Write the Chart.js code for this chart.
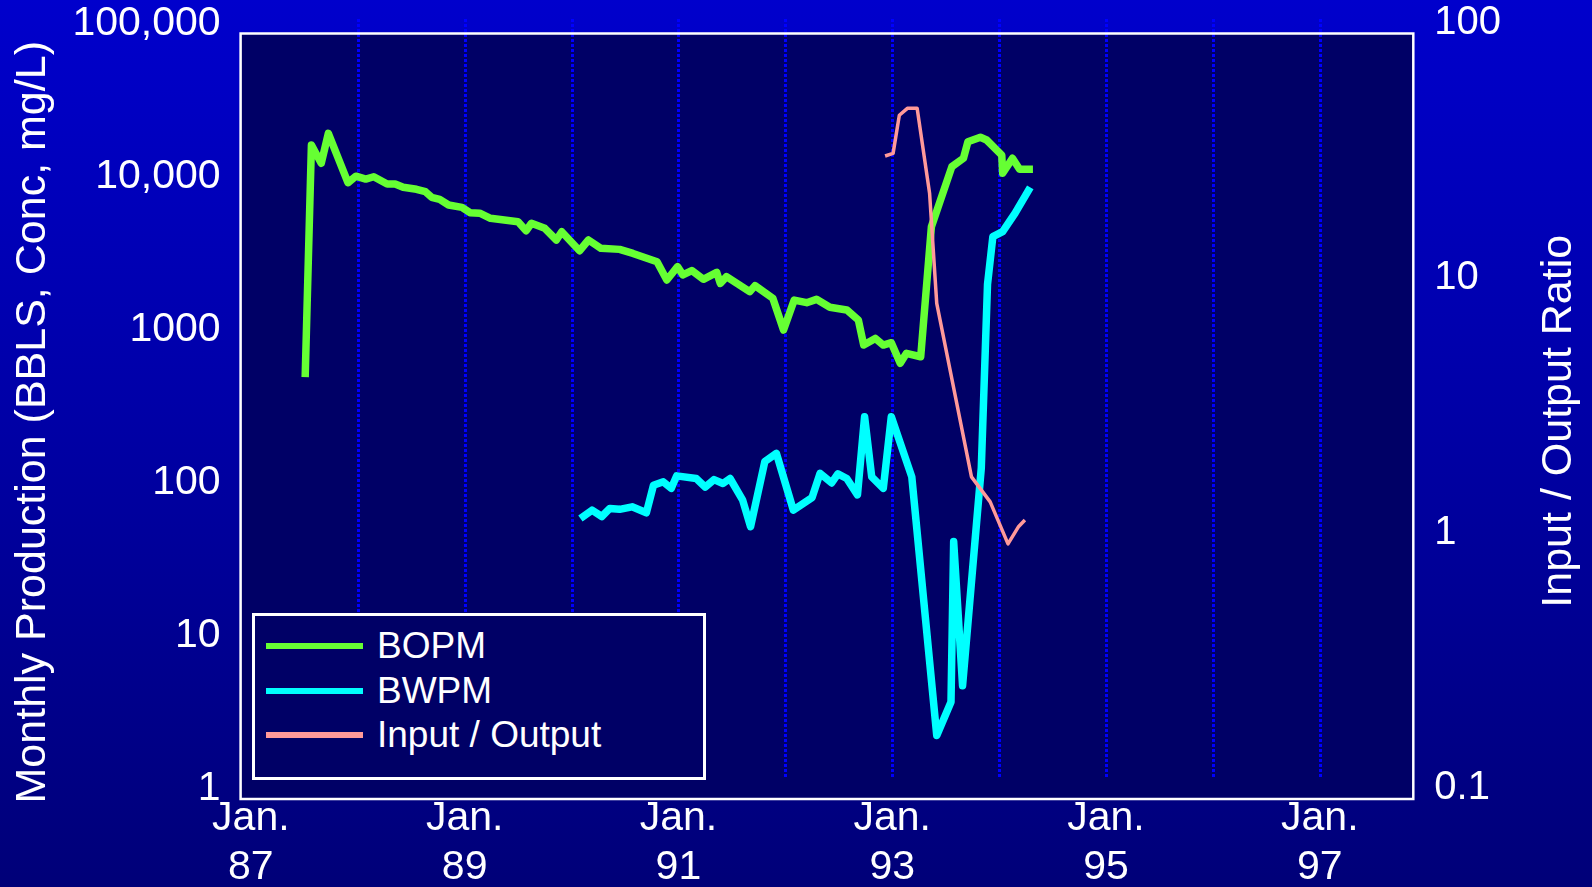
<!DOCTYPE html>
<html>
<head>
<meta charset="utf-8">
<script src="https://cdn.jsdelivr.net/npm/chart.js@4/dist/chart.umd.min.js"></script>
<style>
  html, body { margin: 0; padding: 0; }
  #wrap {
    position: relative;
    width: 1592px;
    height: 887px;
    background: linear-gradient(to bottom, #0000cc 0%, #0000a8 45%, #000078 100%);
    overflow: hidden;
  }
  #chart { position: absolute; left: 0; top: 0; }
  #legend {
    position: absolute;
    left: 252px;
    top: 613px;
    width: 454px;
    height: 167px;
    box-sizing: border-box;
    border: 3px solid #ffffff;
    background: #000066;
    padding-top: 8px;
    font-family: "Liberation Sans", Arial, sans-serif;
    font-size: 37px;
    color: #ffffff;
  }
  .item { display: flex; align-items: center; height: 44.5px; }
  .swatch { width: 97px; height: 6px; margin-left: 11px; margin-right: 14px; }
</style>
</head>
<body>
<div id="wrap">
  <canvas id="chart" width="1592" height="887"></canvas>
  <div id="legend"></div>
</div>
<script>
// x values are months counted from Jan. 1987
const seriesNames = ["BOPM", "BWPM", "Input / Output"];
const seriesColors = ["#66ff33", "#00ffff", "#ff9999"];

const bopmMonths = [6.1, 6.8, 7.9, 8.7, 10.9, 11.8, 12.9, 13.8, 15.3, 16.2,
  17.1, 18.6, 19.6, 20.3, 21.2, 22.2, 23.7, 24.6, 25.7, 26.9,
  30.0, 30.9, 31.5, 33.0, 34.3, 34.9, 36.9, 37.9, 39.3, 41.4,
  42.9, 45.6, 46.7, 47.9, 48.5, 49.5, 50.8, 52.3, 52.7, 53.4,
  56.0, 56.6, 58.6, 59.8, 61.0, 62.4, 63.5, 65.0, 66.9, 68.2,
  68.8, 70.1, 71.0, 71.9, 72.9, 73.6, 75.2, 76.4, 78.7, 80.0,
  80.5, 81.9, 82.6, 84.3, 84.4, 85.5, 86.3, 87.8];
const bopmValues = [570, 18700, 14200, 22300, 10600, 11700, 11200, 11600, 10400, 10400,
  9900, 9600, 9260, 8510, 8260, 7580, 7320, 6750, 6700, 6210,
  5900, 5150, 5760, 5340, 4480, 5070, 3810, 4480, 3950, 3890,
  3660, 3230, 2455, 3000, 2650, 2830, 2480, 2755, 2335, 2580,
  2060, 2255, 1865, 1156, 1815, 1745, 1835, 1628, 1565, 1345,
  923, 1020, 923, 956, 701, 815, 774, 5470, 13500, 15300,
  19650, 21000, 20150, 16070, 12220, 15300, 12970, 12970];

const bwpmMonths = [37.0, 38.3, 39.4, 40.3, 41.4, 42.8, 44.4, 45.2, 46.3, 47.2,
  47.8, 50.0, 51.0, 52.0, 53.0, 53.8, 55.2, 56.1, 57.7, 59.0,
  60.9, 63.0, 63.9, 65.2, 65.9, 66.9, 68.1, 68.9, 69.7, 71.0,
  71.9, 74.2, 77.0, 78.6, 78.9, 79.9, 82.0, 82.7, 83.3, 84.4,
  85.8, 87.5];
const bwpmValues = [68, 77, 70, 79, 78, 81, 74, 112, 118, 107,
  129, 124, 109, 122, 115, 124, 90, 60, 160, 181,
  77, 93, 134, 116, 133, 124, 97, 314, 127, 107,
  314, 127, 2.6, 4.3, 48, 5.5, 145, 2300, 4710, 5080,
  6700, 9890];

const ioMonths = [71.2, 72.1, 72.8, 73.7, 74.8, 76.2, 77.0, 80.9, 83.0, 85.0, 86.2, 86.9];
const ioValues = [33.1, 33.9, 47.8, 50.9, 50.9, 23.6, 8.75, 1.83, 1.46, 1.0, 1.17, 1.24];

// axis ticks
const yearTicks = [0, 12, 24, 36, 48, 60, 72, 84, 96, 108, 120];
const leftTicks = [1, 10, 100, 1000, 10000, 100000];
const leftLabels = ["1", "10", "100", "1000", "10,000", "100,000"];
const rightTicks = [0.1, 1, 10, 100];
const rightLabels = ["0.1", "1", "10", "100"];

const leftTitle = "Monthly Production (BBLS, Conc, mg/L)";
const rightTitle = "Input / Output Ratio";

const FONT = '"Liberation Sans", Arial, sans-serif';

function toPoints(xs, ys) {
  return xs.map((x, i) => ({ x, y: ys[i] }));
}

// keep the tick labels from pushing the plot area around
function noPadding(s) {
  s.paddingTop = 0;
  s.paddingBottom = 0;
  s.paddingLeft = 0;
  s.paddingRight = 0;
}

// Plot area fill
const plotBg = {
  id: "plotBg",
  beforeDraw(chart) {
    const { ctx, chartArea: a } = chart;
    ctx.save();
    ctx.fillStyle = "#000066";
    ctx.fillRect(a.left, a.top, a.right - a.left, a.bottom - a.top);
    ctx.restore();
  },
};

// Dotted year lines, a little taller at the top than the frame
const yearGrid = {
  id: "yearGrid",
  beforeDatasetsDraw(chart) {
    const { ctx, chartArea: a, scales } = chart;
    ctx.save();
    ctx.strokeStyle = "#0000ff";
    ctx.lineWidth = 3;
    ctx.setLineDash([3, 2]);
    yearTicks.forEach(v => {
      if (v === 0) return;
      const px = Math.round(scales.x.getPixelForValue(v)) + 0.5;
      ctx.beginPath();
      ctx.moveTo(px, Math.round(a.top) - 15);
      ctx.lineTo(px, Math.round(a.bottom) - 22);
      ctx.stroke();
    });
    ctx.restore();
  },
};

// White frame and the two rotated axis titles
const frame = {
  id: "frame",
  afterDraw(chart) {
    const { ctx, chartArea: a } = chart;
    ctx.save();
    ctx.strokeStyle = "#ffffff";
    ctx.lineWidth = 2.5;
    ctx.strokeRect(a.left, a.top, a.right - a.left, a.bottom - a.top);
    ctx.restore();

    const mid = (a.top + a.bottom) / 2;
    [[leftTitle, 33.5, mid + 6], [rightTitle, 1559, mid + 5]].forEach(([text, x, y]) => {
      ctx.save();
      ctx.fillStyle = "#ffffff";
      ctx.font = "43px " + FONT;
      ctx.textAlign = "center";
      ctx.textBaseline = "middle";
      ctx.translate(x, y);
      ctx.rotate(-Math.PI / 2);
      ctx.fillText(text, 0, 0);
      ctx.restore();
    });
  },
};

const ctx = document.getElementById("chart").getContext("2d");

new Chart(ctx, {
  type: "line",
  data: {
    datasets: [
      {
        label: seriesNames[2],
        data: toPoints(ioMonths, ioValues),
        yAxisID: "y1",
        borderColor: seriesColors[2],
        borderWidth: 3.5,
        order: 0,
      },
      {
        label: seriesNames[1],
        data: toPoints(bwpmMonths, bwpmValues),
        yAxisID: "y",
        borderColor: seriesColors[1],
        borderWidth: 7.5,
        order: 1,
      },
      {
        label: seriesNames[0],
        data: toPoints(bopmMonths, bopmValues),
        yAxisID: "y",
        borderColor: seriesColors[0],
        borderWidth: 7.5,
        order: 2,
      },
    ],
  },
  options: {
    responsive: false,
    animation: false,
    devicePixelRatio: 1,
    layout: { padding: { top: 33.5, left: 0, right: 0, bottom: 0 } },
    elements: {
      point: { radius: 0 },
      line: { tension: 0, borderJoinStyle: "round", borderCapStyle: "butt", fill: false },
    },
    plugins: {
      legend: { display: false },
      tooltip: { enabled: false },
    },
    scales: {
      x: {
        type: "linear",
        min: -1.15,
        max: 130.5,
        afterBuildTicks: s => { s.ticks = yearTicks.map(v => ({ value: v })); },
        afterFit: s => { noPadding(s); s.height = 88; },
        grid: { display: false, drawTicks: false },
        border: { display: false },
        ticks: {
          autoSkip: false,
          maxRotation: 0,
          padding: -5,
          color: "#ffffff",
          font: { family: FONT, size: 41, lineHeight: 1.2 },
          callback: v => (v % 24 === 0 ? ["Jan.", String(87 + v / 12)] : ""),
        },
      },
      y: {
        type: "logarithmic",
        position: "left",
        min: 1,
        max: 100000,
        afterBuildTicks: s => { s.ticks = leftTicks.map(v => ({ value: v, major: true })); },
        afterFit: s => { noPadding(s); s.width = 240.6; },
        grid: { display: false, drawTicks: false },
        border: { display: false },
        ticks: {
          padding: 20,
          labelOffset: -10,
          color: "#ffffff",
          font: { family: FONT, size: 41 },
          callback: v => leftLabels[leftTicks.indexOf(v)],
        },
      },
      y1: {
        type: "logarithmic",
        position: "right",
        min: 0.1,
        max: 100,
        afterBuildTicks: s => { s.ticks = rightTicks.map(v => ({ value: v, major: true })); },
        afterFit: s => { noPadding(s); s.width = 178.7; },
        grid: { display: false, drawTicks: false },
        border: { display: false },
        ticks: {
          padding: 21,
          labelOffset: -11,
          color: "#ffffff",
          font: { family: FONT, size: 40 },
          callback: v => rightLabels[rightTicks.indexOf(v)],
        },
      },
    },
  },
  plugins: [plotBg, yearGrid, frame],
});

// HTML legend built from the series names and colours
const legend = document.getElementById("legend");
seriesNames.forEach((name, i) => {
  const item = document.createElement("div");
  item.className = "item";
  const sw = document.createElement("span");
  sw.className = "swatch";
  sw.style.background = seriesColors[i];
  const label = document.createElement("span");
  label.textContent = name;
  item.appendChild(sw);
  item.appendChild(label);
  legend.appendChild(item);
});
</script>
</body>
</html>
